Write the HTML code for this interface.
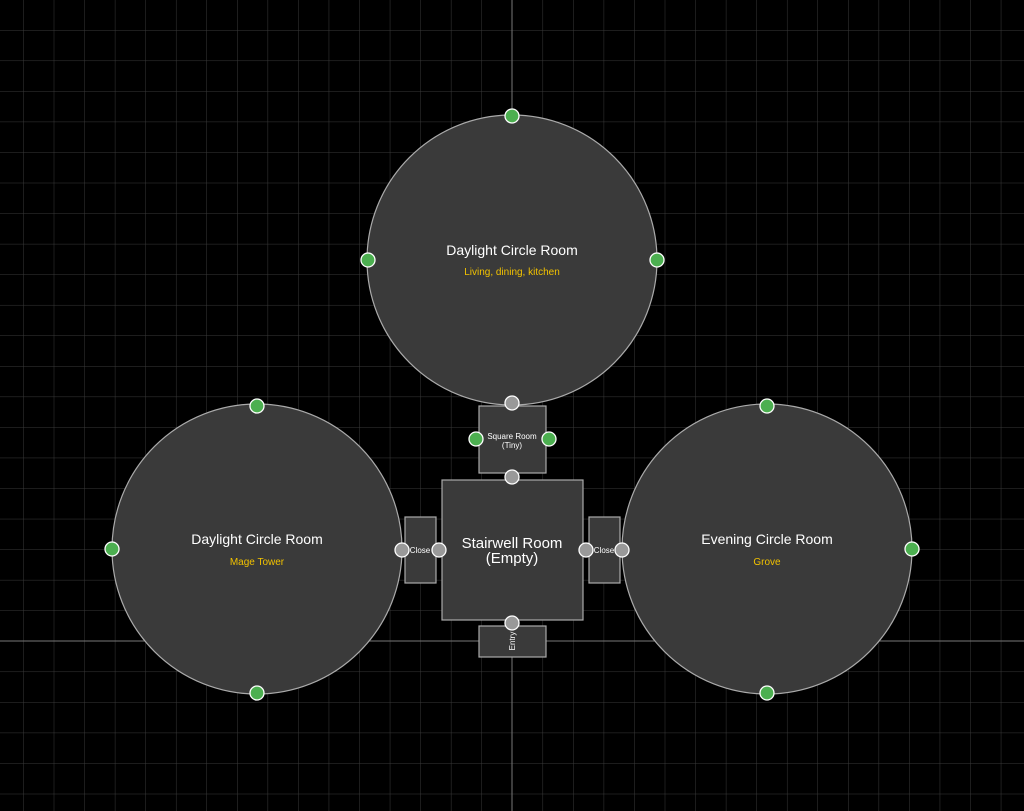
<!DOCTYPE html>
<html><head><style>
html,body{margin:0;padding:0;background:#000;}
svg{display:block;font-family:"Liberation Sans",sans-serif;}
</style></head><body>
<svg width="1024" height="811" viewBox="0 0 1024 811">
<defs>
<pattern id="g" x="512" y="641" width="30.55" height="30.55" patternUnits="userSpaceOnUse">
<path d="M0 0H30.55M0 0V30.55" stroke="#3a3a3a" stroke-width="1" fill="none"/>
</pattern>
</defs>
<rect width="1024" height="811" fill="#000"/>
<rect width="1024" height="811" fill="url(#g)"/>
<line x1="512" y1="0" x2="512" y2="811" stroke="#777" stroke-width="1"/>
<line x1="0" y1="641" x2="1024" y2="641" stroke="#777" stroke-width="1"/>
<g fill="#3a3a3a" stroke="#aaa" stroke-width="1.2">
<circle cx="512" cy="260" r="145"/>
<circle cx="257" cy="549" r="145"/>
<circle cx="767" cy="549" r="145"/>
<rect x="479" y="406" width="67" height="67"/>
<rect x="442" y="480" width="141" height="140"/>
<rect x="405" y="517" width="31" height="66"/>
<rect x="589" y="517" width="31" height="66"/>
<rect x="479" y="626" width="67" height="31"/>
</g>
<g fill="#fff" text-anchor="middle">
<text x="512" y="255" font-size="14">Daylight Circle Room</text>
<text x="512" y="275" font-size="10" fill="#f2c200">Living, dining, kitchen</text>
<text x="257" y="544" font-size="14">Daylight Circle Room</text>
<text x="257" y="565" font-size="10" fill="#f2c200">Mage Tower</text>
<text x="767" y="544" font-size="14">Evening Circle Room</text>
<text x="767" y="565" font-size="10" fill="#f2c200">Grove</text>
<text x="512" y="548" font-size="15">Stairwell Room</text>
<text x="512" y="563" font-size="15">(Empty)</text>
<text x="512" y="439" font-size="8">Square Room</text>
<text x="512" y="448" font-size="8">(Tiny)</text>
<text x="420" y="553" font-size="8">Close</text>
<text x="604" y="553" font-size="8">Close</text>
<text x="0" y="0" font-size="8" transform="translate(515,641) rotate(-90)">Entry</text>
</g>
<g stroke="#fff" stroke-width="1.3">
<g fill="#4caf50">
<circle cx="512" cy="116" r="7"/><circle cx="368" cy="260" r="7"/><circle cx="657" cy="260" r="7"/>
<circle cx="257" cy="406" r="7"/><circle cx="112" cy="549" r="7"/><circle cx="257" cy="693" r="7"/>
<circle cx="767" cy="406" r="7"/><circle cx="912" cy="549" r="7"/><circle cx="767" cy="693" r="7"/>
<circle cx="476" cy="439" r="7"/><circle cx="549" cy="439" r="7"/>
</g>
<g fill="#999">
<circle cx="512" cy="403" r="7"/><circle cx="512" cy="477" r="7"/>
<circle cx="402" cy="550" r="7"/><circle cx="439" cy="550" r="7"/>
<circle cx="586" cy="550" r="7"/><circle cx="622" cy="550" r="7"/>
<circle cx="512" cy="623" r="7"/>
</g>
</g>
</svg>
</body></html>
